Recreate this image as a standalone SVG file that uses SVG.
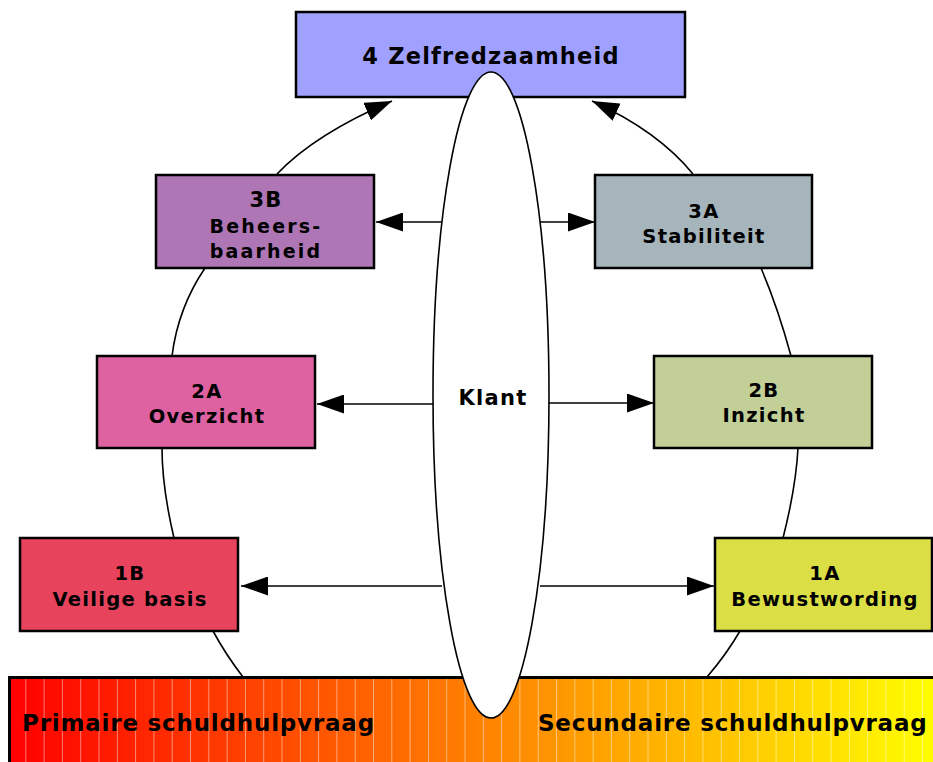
<svg xmlns="http://www.w3.org/2000/svg" width="933" height="762" viewBox="0 0 933 762">
<style>
.box{stroke:#000;stroke-width:2.5}
.t{font-family:"DejaVu Sans","Verdana",sans-serif;font-weight:bold;fill:#000;text-anchor:middle;font-size:19.5px;letter-spacing:1.3px}
.big{font-size:22.5px;letter-spacing:1.2px}
.bar{font-family:"DejaVu Sans","Verdana",sans-serif;font-weight:bold;fill:#000;font-size:23px;letter-spacing:0.8px}
.c{fill:none;stroke:#000;stroke-width:1.6}
</style>
<defs>
<linearGradient id="g" x1="0" y1="0" x2="1" y2="0">
<stop offset="0" stop-color="#ff0000"/>
<stop offset="0.5" stop-color="#ff8000"/>
<stop offset="1" stop-color="#ffff00"/>
</linearGradient>
<pattern id="stripes" patternUnits="userSpaceOnUse" x="8" y="0" width="18.3" height="100">
<rect x="17.6" y="0" width="1" height="100" fill="#ffffff" fill-opacity="0.65"/>
</pattern>
<marker id="ah" viewBox="0 0 10 10" refX="10" refY="5" markerUnits="userSpaceOnUse" markerWidth="27" markerHeight="19" orient="auto" preserveAspectRatio="none">
<path d="M0,0 L10,5 L0,10 z" fill="#000"/>
</marker>
</defs>
<rect width="933" height="762" fill="#fff"/>

<g id="bar">
<rect x="9" y="677" width="930" height="90" fill="url(#g)"/>
<rect x="9" y="677" width="930" height="90" fill="url(#stripes)"/>
<path d="M9.5,762 V677.5 H933" fill="none" stroke="#000" stroke-width="3"/>
<text class="bar" x="22" y="731">Primaire schuldhulpvraag</text>
<text class="bar" x="538" y="731">Secundaire schuldhulpvraag</text>
</g>

<g id="n4">
<rect class="box" x="296" y="12" width="389" height="85" fill="#a0a0ff"/>
<text class="t big" x="491" y="64">4 Zelfredzaamheid</text>
</g>
<g id="n3B">
<rect class="box" x="156" y="175" width="218" height="93" fill="#ae76b4"/>
<text class="t" x="266" y="207" style="font-size:21px">3B</text>
<text class="t" x="266" y="233" style="font-size:19px;letter-spacing:2.2px">Beheers-</text>
<text class="t" x="266" y="258" style="font-size:19px;letter-spacing:2.2px">baarheid</text>
</g>
<g id="n3A">
<rect class="box" x="595" y="175" width="217" height="93" fill="#a6b4bc"/>
<text class="t" x="704" y="218">3A</text>
<text class="t" x="704" y="243">Stabiliteit</text>
</g>
<g id="n2A">
<rect class="box" x="97" y="356" width="218" height="92" fill="#de62a2"/>
<text class="t" x="207" y="398">2A</text>
<text class="t" x="207" y="423">Overzicht</text>
</g>
<g id="n2B">
<rect class="box" x="654" y="356" width="218" height="92" fill="#c2cf97"/>
<text class="t" x="764" y="397">2B</text>
<text class="t" x="764" y="422">Inzicht</text>
</g>
<g id="n1B">
<rect class="box" x="20" y="538" width="218" height="93" fill="#e8435d"/>
<text class="t" x="130" y="580">1B</text>
<text class="t" x="130" y="606">Veilige basis</text>
</g>
<g id="n1A">
<rect class="box" x="715" y="538" width="217" height="93" fill="#dbdf45"/>
<text class="t" x="825" y="580">1A</text>
<text class="t" x="825" y="606">Bewustwording</text>
</g>

<g id="connectors">
<path class="c" d="M277,174 Q315,134 392,101" marker-end="url(#ah)"/>
<path class="c" d="M693,174 Q658,131 592,101" marker-end="url(#ah)"/>
<path class="c" d="M205,268 Q178,308 172,356"/>
<path class="c" d="M761,268 Q778,308 791,356"/>
<path class="c" d="M162,448 Q162,487 174,538"/>
<path class="c" d="M798,448 Q796,487 783,538"/>
<path class="c" d="M213,631 Q226,655 243,677"/>
<path class="c" d="M740,631 Q726,655 707,677"/>
<path class="c" d="M442,222 H376" marker-end="url(#ah)"/>
<path class="c" d="M540,222 H595" marker-end="url(#ah)"/>
<path class="c" d="M434,404 H317" marker-end="url(#ah)"/>
<path class="c" d="M548,403 H654" marker-end="url(#ah)"/>
<path class="c" d="M442,586 H241" marker-end="url(#ah)"/>
<path class="c" d="M540,586 H714" marker-end="url(#ah)"/>
</g>

<g id="klant">
<ellipse cx="491" cy="395" rx="58" ry="323" fill="#fff" stroke="#000" stroke-width="1.6"/>
<text class="t" x="493" y="405" style="font-size:21px">Klant</text>
</g>
</svg>
